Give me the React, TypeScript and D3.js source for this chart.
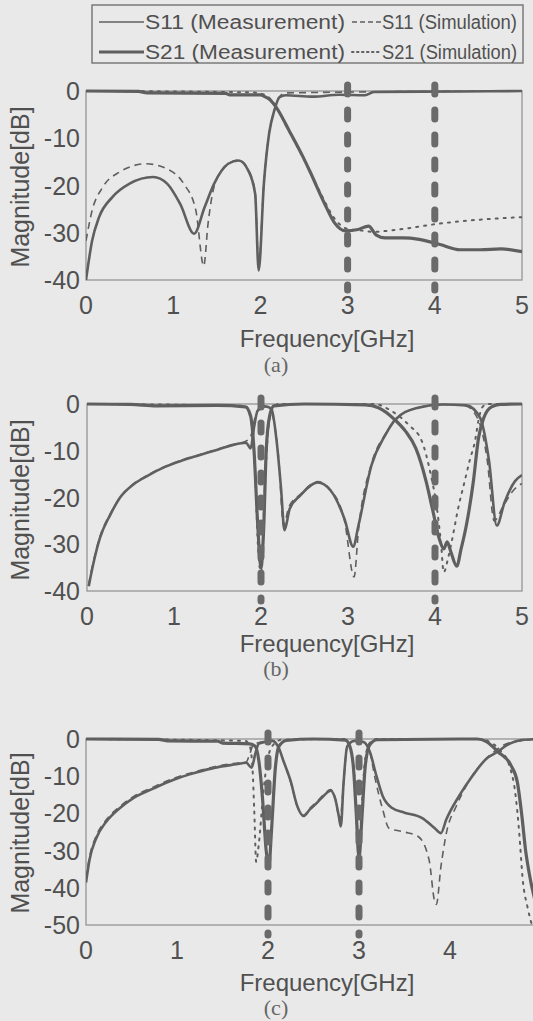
import React from "react";
import * as d3 from "d3";

// ---- data: [frequency GHz, magnitude dB] ----

// (a)
const aS11Meas: [number, number][] = [
  [0.0, -40], [0.07, -31.7], [0.15, -26.7], [0.3, -22.5], [0.5, -19.6], [0.77, -18.2],
  [0.93, -19.6], [1.08, -23.9], [1.24, -30.2], [1.36, -24.6], [1.47, -19.6], [1.63, -15.4],
  [1.75, -14.7], [1.86, -16.8], [1.94, -21.8], [1.98, -38], [2.04, -19.6], [2.1, -9],
  [2.16, -4.1], [2.22, -1.3], [2.29, -0.9], [2.6, -1.2], [2.9, -0.8], [3.2, -0.9],
  [3.3, -0.2], [4.3, -0.1], [5.0, 0],
];
const aS11Sim: [number, number][] = [
  [0.0, -31.7], [0.07, -25.3], [0.19, -20.4], [0.38, -17.2], [0.69, -15.4], [0.93, -16.5],
  [1.12, -19.6], [1.26, -25.3], [1.35, -37], [1.4, -28], [1.45, -21.8], [1.55, -17],
  [1.75, -14.6], [1.86, -16.6], [1.94, -21.5], [1.98, -37], [2.04, -19.4], [2.1, -9],
  [2.16, -4], [2.22, -1.2], [2.3, -0.4], [5.0, 0],
];
const aS21Meas: [number, number][] = [
  [0.0, 0], [0.6, -0.1], [0.7, -0.4], [1.6, -0.5], [1.65, -0.8], [2.0, -0.8], [2.05, -1.2],
  [2.1, -1.7], [2.18, -3.4], [2.33, -8.4], [2.49, -14], [2.57, -17.1], [2.73, -23.6],
  [2.85, -27.9], [2.98, -29.6], [3.12, -29.3], [3.24, -28.6], [3.33, -30.5], [3.43, -31.1],
  [3.63, -31.1], [3.82, -31.4], [4.06, -32.5], [4.29, -33.6], [4.52, -33.6], [4.76, -33.4],
  [5.0, -34],
];
const aS21Sim: [number, number][] = [
  [0.0, 0], [1.9, -0.3], [2.05, -0.8], [2.15, -2.5], [2.3, -7.5], [2.5, -14.5], [2.7, -22],
  [2.85, -27], [3.0, -29.2], [3.15, -29.5], [3.3, -29.8], [3.5, -29.5], [3.75, -28.9],
  [4.0, -28.2], [4.4, -27.4], [4.7, -27], [5.0, -26.7],
];

// (b)
const bS11Meas: [number, number][] = [
  [0.02, -39], [0.07, -34.4], [0.15, -28.6], [0.27, -23.6], [0.38, -20], [0.54, -17.1],
  [0.7, -15.3], [0.89, -13.5], [1.09, -12.1], [1.28, -11], [1.48, -9.9], [1.67, -8.8],
  [1.83, -8.3], [1.88, -9.5], [1.92, -5], [1.96, -1.5], [2.05, -0.5], [2.12, -1],
  [2.18, -8], [2.23, -18], [2.27, -27], [2.33, -22.4], [2.45, -19.6], [2.65, -16.8],
  [2.8, -18.5], [2.96, -24.6], [3.06, -30.5], [3.12, -26], [3.27, -13.1], [3.43, -6.6],
  [3.54, -3.4], [3.78, -0.9], [4.09, -0.1], [4.36, -0.3], [4.52, -3], [4.62, -12],
  [4.71, -26], [4.8, -21], [4.92, -16.5], [5.0, -15.2],
];
const bS11Sim: [number, number][] = [
  [0.02, -38.5], [0.07, -34], [0.15, -28.3], [0.27, -23.4], [0.38, -20], [0.54, -17],
  [0.7, -15.2], [0.89, -13.4], [1.09, -12], [1.28, -10.9], [1.48, -9.8], [1.67, -8.7],
  [1.82, -8], [1.88, -7], [1.93, -3], [1.98, -0.8], [2.08, -0.6], [2.14, -3],
  [2.2, -11], [2.26, -26], [2.32, -22], [2.45, -19.4], [2.65, -16.6], [2.8, -18.4],
  [2.96, -25], [3.07, -37], [3.12, -27], [3.27, -12.8], [3.43, -6.4], [3.56, -3.2],
  [3.8, -0.8], [4.1, -0.1], [4.35, -0.4], [4.5, -3.5], [4.6, -12], [4.68, -25],
  [4.78, -22], [4.9, -18.5], [5.0, -17],
];
const bS21Meas: [number, number][] = [
  [0.0, 0], [0.5, -0.1], [0.8, -0.4], [1.5, -0.3], [1.82, -0.6], [1.88, -2.5],
  [1.92, -10], [1.96, -25], [2.0, -35], [2.03, -27], [2.06, -10], [2.1, -2.5],
  [2.15, -0.4], [2.5, 0], [3.2, -0.2], [3.35, -0.8], [3.54, -3.4], [3.66, -5.8],
  [3.78, -9.5], [3.9, -16.7], [3.97, -22.4], [4.05, -28.9], [4.1, -31], [4.14, -29.5],
  [4.18, -31.5], [4.25, -34.7], [4.3, -31], [4.36, -26], [4.44, -16.7], [4.5, -7.3],
  [4.56, -3], [4.65, -0.6], [4.75, -0.1], [5.0, 0],
];
const bS21Sim: [number, number][] = [
  [0.0, 0], [1.82, -0.4], [1.88, -3], [1.93, -14], [1.97, -32], [2.0, -36], [2.04, -20],
  [2.08, -6], [2.13, -1], [2.2, 0], [3.3, 0], [3.5, -1.5], [3.7, -4.5], [3.85, -8],
  [3.95, -15], [4.02, -22], [4.07, -30], [4.1, -36], [4.15, -33], [4.19, -29.6],
  [4.27, -22], [4.34, -16.6], [4.4, -12], [4.46, -7.9], [4.5, -3.5], [4.54, -0.8],
  [4.6, 0], [5.0, 0],
];

// (c)
const cS11Meas: [number, number][] = [
  [0.0, -38.6], [0.04, -32.3], [0.11, -26.8], [0.22, -22.3], [0.37, -18.6], [0.52, -15.9],
  [0.75, -13.2], [0.97, -10.9], [1.2, -9.1], [1.42, -7.7], [1.65, -6.8], [1.76, -6.4],
  [1.82, -7.7], [1.86, -4], [1.9, -1.2], [2.05, -0.5], [2.12, -2.5], [2.17, -5.9],
  [2.25, -11.4], [2.32, -17.9], [2.39, -20.7], [2.46, -18.9], [2.54, -17.1], [2.61, -15.3],
  [2.69, -13.9], [2.74, -16.2], [2.78, -21], [2.8, -23.5], [2.83, -12], [2.87, -2],
  [2.95, -0.5], [3.05, -0.8], [3.12, -3.5], [3.19, -9.8], [3.26, -15.3], [3.36, -18.5],
  [3.5, -19.8], [3.69, -21.2], [3.83, -23.9], [3.9, -25.3], [3.96, -21.6], [4.1, -15.3],
  [4.25, -9.8], [4.4, -5.3], [4.52, -3.5], [4.63, -1.6], [4.78, -0.3], [5.0, 0],
];
const cS11Sim: [number, number][] = [
  [0.0, -37.5], [0.04, -31.5], [0.11, -26.2], [0.22, -21.8], [0.37, -18.2], [0.52, -15.5],
  [0.75, -12.8], [0.97, -10.5], [1.2, -8.8], [1.42, -7.4], [1.65, -6.5], [1.76, -6.2],
  [1.8, -4], [1.84, -1.5], [2.05, -0.4], [2.12, -2.5], [2.17, -6], [2.25, -11.6],
  [2.32, -18], [2.39, -20.5], [2.46, -18.6], [2.54, -16.8], [2.61, -15], [2.69, -13.6],
  [2.74, -16], [2.79, -22], [2.83, -12], [2.87, -2], [2.95, -0.5], [3.05, -0.8],
  [3.12, -3.5], [3.17, -9.8], [3.26, -18.9], [3.33, -24], [3.5, -25], [3.65, -26.2],
  [3.77, -32.5], [3.83, -43.5], [3.85, -44.5], [3.9, -34.4], [3.96, -25.3], [4.07, -18],
  [4.18, -12.5], [4.33, -7.1], [4.48, -3.5], [4.63, -1.2], [4.85, -0.3], [5.0, 0],
];
const cS21Meas: [number, number][] = [
  [0.0, 0], [0.8, -0.1], [0.9, -0.5], [1.45, -0.6], [1.5, -1.1], [1.8, -1.3], [1.86, -2],
  [1.9, -6], [1.94, -16], [1.98, -30], [2.01, -34], [2.04, -24], [2.08, -8], [2.12, -2],
  [2.2, -0.4], [2.5, 0], [2.85, -0.3], [2.9, -2], [2.94, -8], [2.97, -20], [3.0, -32],
  [3.03, -22], [3.07, -7], [3.12, -1.5], [3.2, -0.2], [4.3, 0], [4.4, -0.7], [4.53, -3.5],
  [4.67, -7.1], [4.74, -11.6], [4.79, -20.7], [4.83, -29.8], [4.87, -36], [4.92, -42],
  [5.0, -48],
];
const cS21Sim: [number, number][] = [
  [0.0, 0], [1.75, -0.5], [1.8, -2], [1.83, -8], [1.85, -20], [1.87, -33], [1.9, -28],
  [1.95, -14], [2.0, -5], [2.06, -1.5], [2.15, -0.2], [2.85, 0], [2.9, -2], [2.95, -10],
  [2.98, -25], [3.0, -30], [3.03, -18], [3.07, -5], [3.12, -1], [3.2, 0], [4.35, 0],
  [4.45, -1], [4.55, -3], [4.65, -7], [4.72, -15], [4.76, -25], [4.8, -38], [4.85, -45],
  [4.9, -50],
];

const xTicks = [0, 1, 2, 3, 4, 5];
const yTicks40 = [0, -10, -20, -30, -40];
const yTicks50 = [0, -10, -20, -30, -40, -50];
const markersA = [3, 4];
const markersB = [2, 4];
const markersC = [2, 3];
const legendLabels = [
  "S11 (Measurement)",
  "S11 (Simulation)",
  "S21 (Measurement)",
  "S21 (Simulation)",
];

const ink = "#5f5f5f";
const textInk = "#505050";
const sans = "'Liberation Sans', Arial, sans-serif";

const styles = {
  s11m: { width: 2.6, dash: undefined as string | undefined },
  s11s: { width: 1.6, dash: "7 5" },
  s21m: { width: 3.2, dash: undefined as string | undefined },
  s21s: { width: 2, dash: "2 6" },
};

const panels = [
  {
    id: "a", left: 86, right: 522, top: 91, bottom: 280, yMin: -40, yTicks: yTicks40,
    markers: markersA, freqY: 338, tagY: 364, ylabY: 187,
    s11m: aS11Meas, s11s: aS11Sim, s21m: aS21Meas, s21s: aS21Sim,
  },
  {
    id: "b", left: 87, right: 522, top: 404, bottom: 591, yMin: -40, yTicks: yTicks40,
    markers: markersB, freqY: 643, tagY: 668, ylabY: 500,
    s11m: bS11Meas, s11s: bS11Sim, s21m: bS21Meas, s21s: bS21Sim,
  },
  {
    id: "c", left: 86, right: 541, top: 739, bottom: 925, yMin: -50, yTicks: yTicks50,
    markers: markersC, freqY: 982, tagY: 1007, ylabY: 833,
    s11m: cS11Meas, s11s: cS11Sim, s21m: cS21Meas, s21s: cS21Sim,
  },
];

function Panel({ p }: { p: (typeof panels)[number] }) {
  const x = d3.scaleLinear().domain([0, 5]).range([p.left, p.right]);
  const y = d3.scaleLinear().domain([p.yMin, 0]).range([p.bottom, p.top]);
  const line = d3
    .line<[number, number]>()
    .x((d) => x(d[0]))
    .y((d) => y(Math.max(d[1], p.yMin - 2)))
    .curve(d3.curveMonotoneX);

  const keys: (keyof typeof styles)[] = ["s11s", "s21s", "s11m", "s21m"];

  return (
    <g>
      <defs>
        <clipPath id={`clip-${p.id}`}>
          <rect x={p.left} y={p.top - 4} width={p.right - p.left} height={p.bottom - p.top + 4} />
        </clipPath>
      </defs>
      <rect
        x={p.left}
        y={p.top}
        width={p.right - p.left}
        height={p.bottom - p.top}
        fill="none"
        stroke="#9a9a9a"
        strokeWidth={1.4}
      />
      <g clipPath={`url(#clip-${p.id})`}>
        {keys.map((k) => (
          <path
            key={k}
            d={line(p[k]) || ""}
            fill="none"
            stroke={ink}
            strokeWidth={styles[k].width}
            strokeDasharray={styles[k].dash}
            strokeLinejoin="round"
            strokeLinecap={k === "s21s" ? "round" : "butt"}
          />
        ))}
      </g>
      {p.markers.map((m) => (
        <line
          key={`m${m}`}
          x1={x(m)}
          x2={x(m)}
          y1={p.top - 6}
          y2={p.bottom + 10}
          stroke="#6a6a6a"
          strokeWidth={7}
          strokeDasharray="9 16"
          strokeLinecap="round"
        />
      ))}
      {p.yTicks.map((t) => (
        <text
          key={`y${t}`}
          x={80}
          y={y(t)}
          textAnchor="end"
          dominantBaseline="central"
          style={{ fontFamily: sans, fontSize: 25, fill: textInk }}
        >
          {t}
        </text>
      ))}
      {xTicks.map((t) => (
        <text
          key={`x${t}`}
          x={x(t)}
          y={p.bottom + 25}
          textAnchor="middle"
          dominantBaseline="central"
          style={{ fontFamily: sans, fontSize: 25, fill: textInk }}
        >
          {t}
        </text>
      ))}
      <text
        x={327}
        y={p.freqY}
        textAnchor="middle"
        dominantBaseline="central"
        style={{ fontFamily: sans, fontSize: 24, fill: textInk }}
      >
        Frequency[GHz]
      </text>
      <text
        transform={`translate(20,${p.ylabY}) rotate(-90)`}
        textAnchor="middle"
        dominantBaseline="central"
        style={{ fontFamily: sans, fontSize: 25, fill: textInk }}
      >
        Magnitude[dB]
      </text>
      <text
        x={276}
        y={p.tagY}
        textAnchor="middle"
        dominantBaseline="central"
        style={{ fontFamily: "'Liberation Serif', 'Times New Roman', serif", fontSize: 22, fill: "#666" }}
      >
        ({p.id})
      </text>
    </g>
  );
}

function Legend() {
  const rows = [22, 52];
  const legendText = { fontFamily: sans, fontSize: 20, fill: textInk };
  return (
    <g>
      <rect x={92} y={5} width={431} height={58} fill="none" stroke="#7a7a7a" strokeWidth={1.5} />
      {/* left column: measurement */}
      <line x1={99} x2={144} y1={rows[0]} y2={rows[0]} stroke={ink} strokeWidth={1.6} />
      <line x1={99} x2={144} y1={rows[1]} y2={rows[1]} stroke={ink} strokeWidth={styles.s21m.width} />
      <text x={145} y={rows[0]} dominantBaseline="central" textLength={200} lengthAdjust="spacingAndGlyphs" style={legendText}>
        {legendLabels[0]}
      </text>
      <text x={145} y={rows[1]} dominantBaseline="central" textLength={200} lengthAdjust="spacingAndGlyphs" style={legendText}>
        {legendLabels[2]}
      </text>
      {/* right column: simulation */}
      <line x1={352} x2={381} y1={rows[0]} y2={rows[0]} stroke={ink} strokeWidth={1.6} strokeDasharray="5 3" />
      <line x1={352} x2={381} y1={rows[1]} y2={rows[1]} stroke={ink} strokeWidth={2} strokeDasharray="1.5 3.5" strokeLinecap="round" />
      <text x={382} y={rows[0]} dominantBaseline="central" textLength={135} lengthAdjust="spacingAndGlyphs" style={legendText}>
        {legendLabels[1]}
      </text>
      <text x={382} y={rows[1]} dominantBaseline="central" textLength={135} lengthAdjust="spacingAndGlyphs" style={legendText}>
        {legendLabels[3]}
      </text>
    </g>
  );
}

export default function App() {
  return (
    <svg
      width={533}
      height={1021}
      style={{ position: "absolute", left: 0, top: 0, background: "#e9e9e9" }}
    >
      <rect x={0} y={0} width={533} height={1021} fill="#e9e9e9" />
      <Legend />
      {panels.map((p) => (
        <Panel key={p.id} p={p} />
      ))}
    </svg>
  );
}
